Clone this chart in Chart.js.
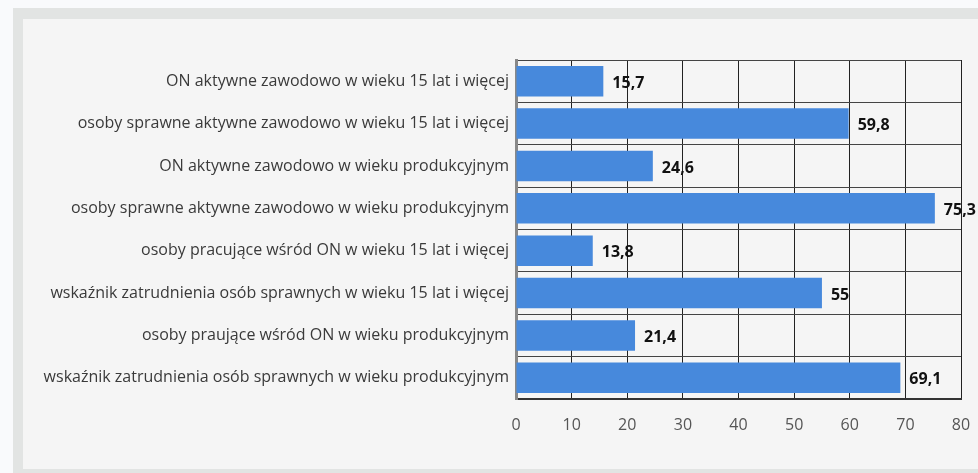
<!DOCTYPE html>
<html>
<head>
<meta charset="utf-8">
<script src="https://cdn.jsdelivr.net/npm/chart.js@4/dist/chart.umd.min.js"></script>
<style>
  html, body { margin: 0; padding: 0; background: #f9fafc; overflow: hidden; }
  #frame {
    position: absolute; left: 13px; top: 8px;
    width: 980px; height: 450px;
    border: 11px solid #e2e4e3; border-left-width: 10px; border-right: none; border-bottom-width: 4px;
    background: #f5f5f5;
  }
  #wrap { position: absolute; left: 0; top: 0; width: 955px; height: 450px; }
</style>
</head>
<body>
<div id="frame"><div id="wrap"><canvas id="chart"></canvas></div></div>
<script>
  const categories = [
    'ON aktywne zawodowo w wieku 15 lat i więcej',
    'osoby sprawne aktywne zawodowo w wieku 15 lat i więcej',
    'ON aktywne zawodowo w wieku produkcyjnym',
    'osoby sprawne aktywne zawodowo w wieku produkcyjnym',
    'osoby pracujące wśród ON w wieku 15 lat i więcej',
    'wskaźnik zatrudnienia osób sprawnych w wieku 15 lat i więcej',
    'osoby praujące wśród ON w wieku produkcyjnym',
    'wskaźnik zatrudnienia osób sprawnych w wieku produkcyjnym'
  ];
  const values = [15.7, 59.8, 24.6, 75.3, 13.8, 55, 21.4, 69.1];
  const xMin = 0;
  const xMax = 80;
  const xStep = 10;

  const FONT = "'Open Sans', 'DejaVu Sans', sans-serif";

  // value labels next to each bar, not clipped to the chart area
  const valueLabels = {
    id: 'valueLabels',
    afterDatasetsDraw(chart) {
      const ctx = chart.ctx;
      const meta = chart.getDatasetMeta(0);
      ctx.save();
      ctx.font = 'bold 16px ' + FONT;
      ctx.fillStyle = '#111';
      ctx.textAlign = 'left';
      ctx.textBaseline = 'middle';
      meta.data.forEach((bar, i) => {
        const txt = String(values[i]).replace('.', ',');
        ctx.fillText(txt, bar.x + 9, bar.y + 2);
      });
      ctx.restore();
    }
  };

  new Chart(document.getElementById('chart'), {
    type: 'bar',
    data: {
      labels: categories,
      datasets: [{
        data: values,
        backgroundColor: '#4789dc',
        borderWidth: 0,
        categoryPercentage: 0.72,
        barPercentage: 1
      }]
    },
    plugins: [valueLabels],
    options: {
      indexAxis: 'y',
      responsive: true,
      maintainAspectRatio: false,
      animation: false,
      layout: { padding: { top: 41, right: 17, bottom: 0, left: 0 } },
      plugins: {
        legend: { display: false },
        tooltip: { enabled: false }
      },
      scales: {
        x: {
          min: xMin,
          max: xMax,
          ticks: {
            stepSize: xStep,
            padding: 17,
            color: '#555',
            font: { family: FONT, size: 16 }
          },
          grid: { color: '#222', lineWidth: 1, drawTicks: false },
          border: { color: '#333', width: 2 },
          afterFit(scale) {
            scale.height = 70;
            scale.paddingLeft = 0;
            scale.paddingRight = 0;
          }
        },
        y: {
          ticks: {
            padding: 7,
            color: '#3a3a3a',
            font: { family: FONT, size: 16 }
          },
          grid: { color: '#444', lineWidth: 1, drawTicks: false, offset: true },
          border: { color: '#888', width: 3 },
          afterFit(scale) {
            scale.width = 493;
            scale.paddingTop = 0;
            scale.paddingBottom = 0;
          }
        }
      }
    }
  });
</script>
</body>
</html>
